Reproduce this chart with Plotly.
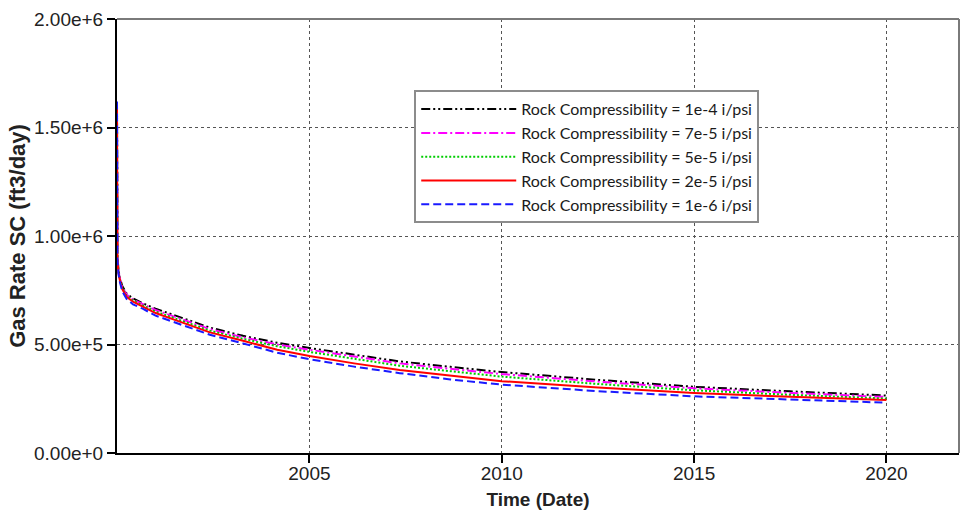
import plotly.graph_objects as go

dates = ["2000-01-01", "2000-01-02", "2000-01-05", "2000-01-15", "2000-01-27",
         "2000-02-20", "2000-04-01", "2000-06-01", "2000-09-01", "2001-01-01",
         "2001-07-23", "2002-06-01", "2003-04-12", "2004-03-01", "2005-01-01",
         "2006-03-01", "2007-05-08", "2008-09-01", "2010-01-01", "2012-07-01",
         "2015-01-01", "2017-07-01", "2020-01-01"]

rate_1e4 = [1.60e6, 1.00e6, 0.91e6, 0.845e6, 0.81e6, 0.77e6, 0.735e6, 0.712e6, 0.69e6, 0.665e6,
            0.63e6, 0.578e6, 0.540e6, 0.508e6, 0.484e6, 0.452e6, 0.422e6, 0.397e6, 0.373e6,
            0.337e6, 0.305e6, 0.284e6, 0.265e6]
rate_7e5 = [1.61e6, 0.99e6, 0.905e6, 0.84e6, 0.806e6, 0.765e6, 0.73e6, 0.707e6, 0.685e6, 0.659e6,
            0.624e6, 0.571e6, 0.533e6, 0.500e6, 0.476e6, 0.444e6, 0.413e6, 0.388e6, 0.364e6,
            0.329e6, 0.298e6, 0.277e6, 0.258e6]
rate_5e5 = [1.61e6, 0.98e6, 0.90e6, 0.835e6, 0.802e6, 0.76e6, 0.725e6, 0.702e6, 0.679e6, 0.652e6,
            0.617e6, 0.564e6, 0.526e6, 0.492e6, 0.466e6, 0.433e6, 0.402e6, 0.377e6, 0.352e6,
            0.318e6, 0.289e6, 0.268e6, 0.251e6]
rate_2e5 = [1.61e6, 0.97e6, 0.895e6, 0.83e6, 0.798e6, 0.755e6, 0.72e6, 0.697e6, 0.673e6, 0.645e6,
            0.61e6, 0.556e6, 0.517e6, 0.476e6, 0.447e6, 0.413e6, 0.383e6, 0.356e6, 0.331e6,
            0.302e6, 0.277e6, 0.259e6, 0.244e6]
rate_1e6 = [1.62e6, 0.96e6, 0.89e6, 0.825e6, 0.79e6, 0.745e6, 0.71e6, 0.685e6, 0.665e6, 0.633e6,
            0.598e6, 0.545e6, 0.505e6, 0.462e6, 0.432e6, 0.398e6, 0.368e6, 0.339e6, 0.315e6,
            0.285e6, 0.261e6, 0.245e6, 0.232e6]

series_names = ["Rock Compressibility = 1e-4 i/psi",
                "Rock Compressibility = 7e-5 i/psi",
                "Rock Compressibility = 5e-5 i/psi",
                "Rock Compressibility = 2e-5 i/psi",
                "Rock Compressibility = 1e-6 i/psi"]

x_tick_vals = ["2005-01-01", "2010-01-01", "2015-01-01", "2020-01-01"]
x_tick_text = ["2005", "2010", "2015", "2020"]
y_tick_vals = [0, 5e5, 1e6, 1.5e6, 2e6]

styles = [
    dict(color="#000000", dash="9px,3px,2px,3px,2px,3px"),
    dict(color="#ff00ff", dash="9px,3px,2px,3px"),
    dict(color="#00cc00", dash="2px,2px"),
    dict(color="#ff0000", dash="solid"),
    dict(color="#1a1aff", dash="8px,4px"),
]

fig = go.Figure()
for name, vals, st in zip(series_names, [rate_1e4, rate_7e5, rate_5e5, rate_2e5, rate_1e6], styles):
    fig.add_trace(go.Scatter(x=dates, y=vals, mode="lines", name=name,
                             line=dict(color=st["color"], dash=st["dash"], width=2)))

axis_font = dict(family="Liberation Sans, Arial, sans-serif", size=19, color="#222222")

fig.update_layout(
    width=965, height=519,
    margin=dict(l=117, r=6, t=19, b=66),
    paper_bgcolor="white", plot_bgcolor="white",
    showlegend=True,
    legend=dict(x=0.353, y=0.836, xanchor="left", yanchor="top",
                bgcolor="white", bordercolor="#8c8c8c", borderwidth=2,
                font=dict(family="Lato, sans-serif", size=16, color="#1a1a1a"),
                itemwidth=95, tracegroupgap=0),
    xaxis=dict(type="date", range=["2000-01-01", "2021-11-20"],
               tickvals=x_tick_vals, ticktext=x_tick_text,
               showgrid=True, gridcolor="#555555", griddash="dot", gridwidth=1,
               ticks="outside", ticklen=8, tickwidth=2, tickcolor="#000000",
               showline=True, linecolor="#000000", linewidth=2,
               tickfont=axis_font, zeroline=False, layer="below traces",
               ticklabelstandoff=-6,
               title=dict(text="<b>Time (Date)</b>", standoff=10,
                          font=dict(family="Liberation Sans, Arial, sans-serif", size=19, color="#222222"))),
    yaxis=dict(range=[0, 2e6], tickvals=y_tick_vals, tickformat=".2e",
               showgrid=True, gridcolor="#555555", griddash="dot", gridwidth=1,
               ticks="outside", ticklen=8, tickwidth=2, tickcolor="#000000",
               showline=True, linecolor="#000000", linewidth=2,
               tickfont=axis_font, zeroline=False, layer="below traces",
               title=dict(text="<b>Gas Rate SC (ft3/day)</b>", standoff=2,
                          font=dict(family="Liberation Sans, Arial, sans-serif", size=22, color="#222222"))),
)

# plot frame (top and right edges)
fig.add_shape(type="line", xref="paper", yref="paper", x0=0, x1=1, y0=1, y1=1,
              line=dict(color="#7a7a7a", width=2), layer="above")
fig.add_shape(type="line", xref="paper", yref="paper", x0=1, x1=1, y0=0, y1=1,
              line=dict(color="#7a7a7a", width=2), layer="above")

fig.write_html("out.html")
